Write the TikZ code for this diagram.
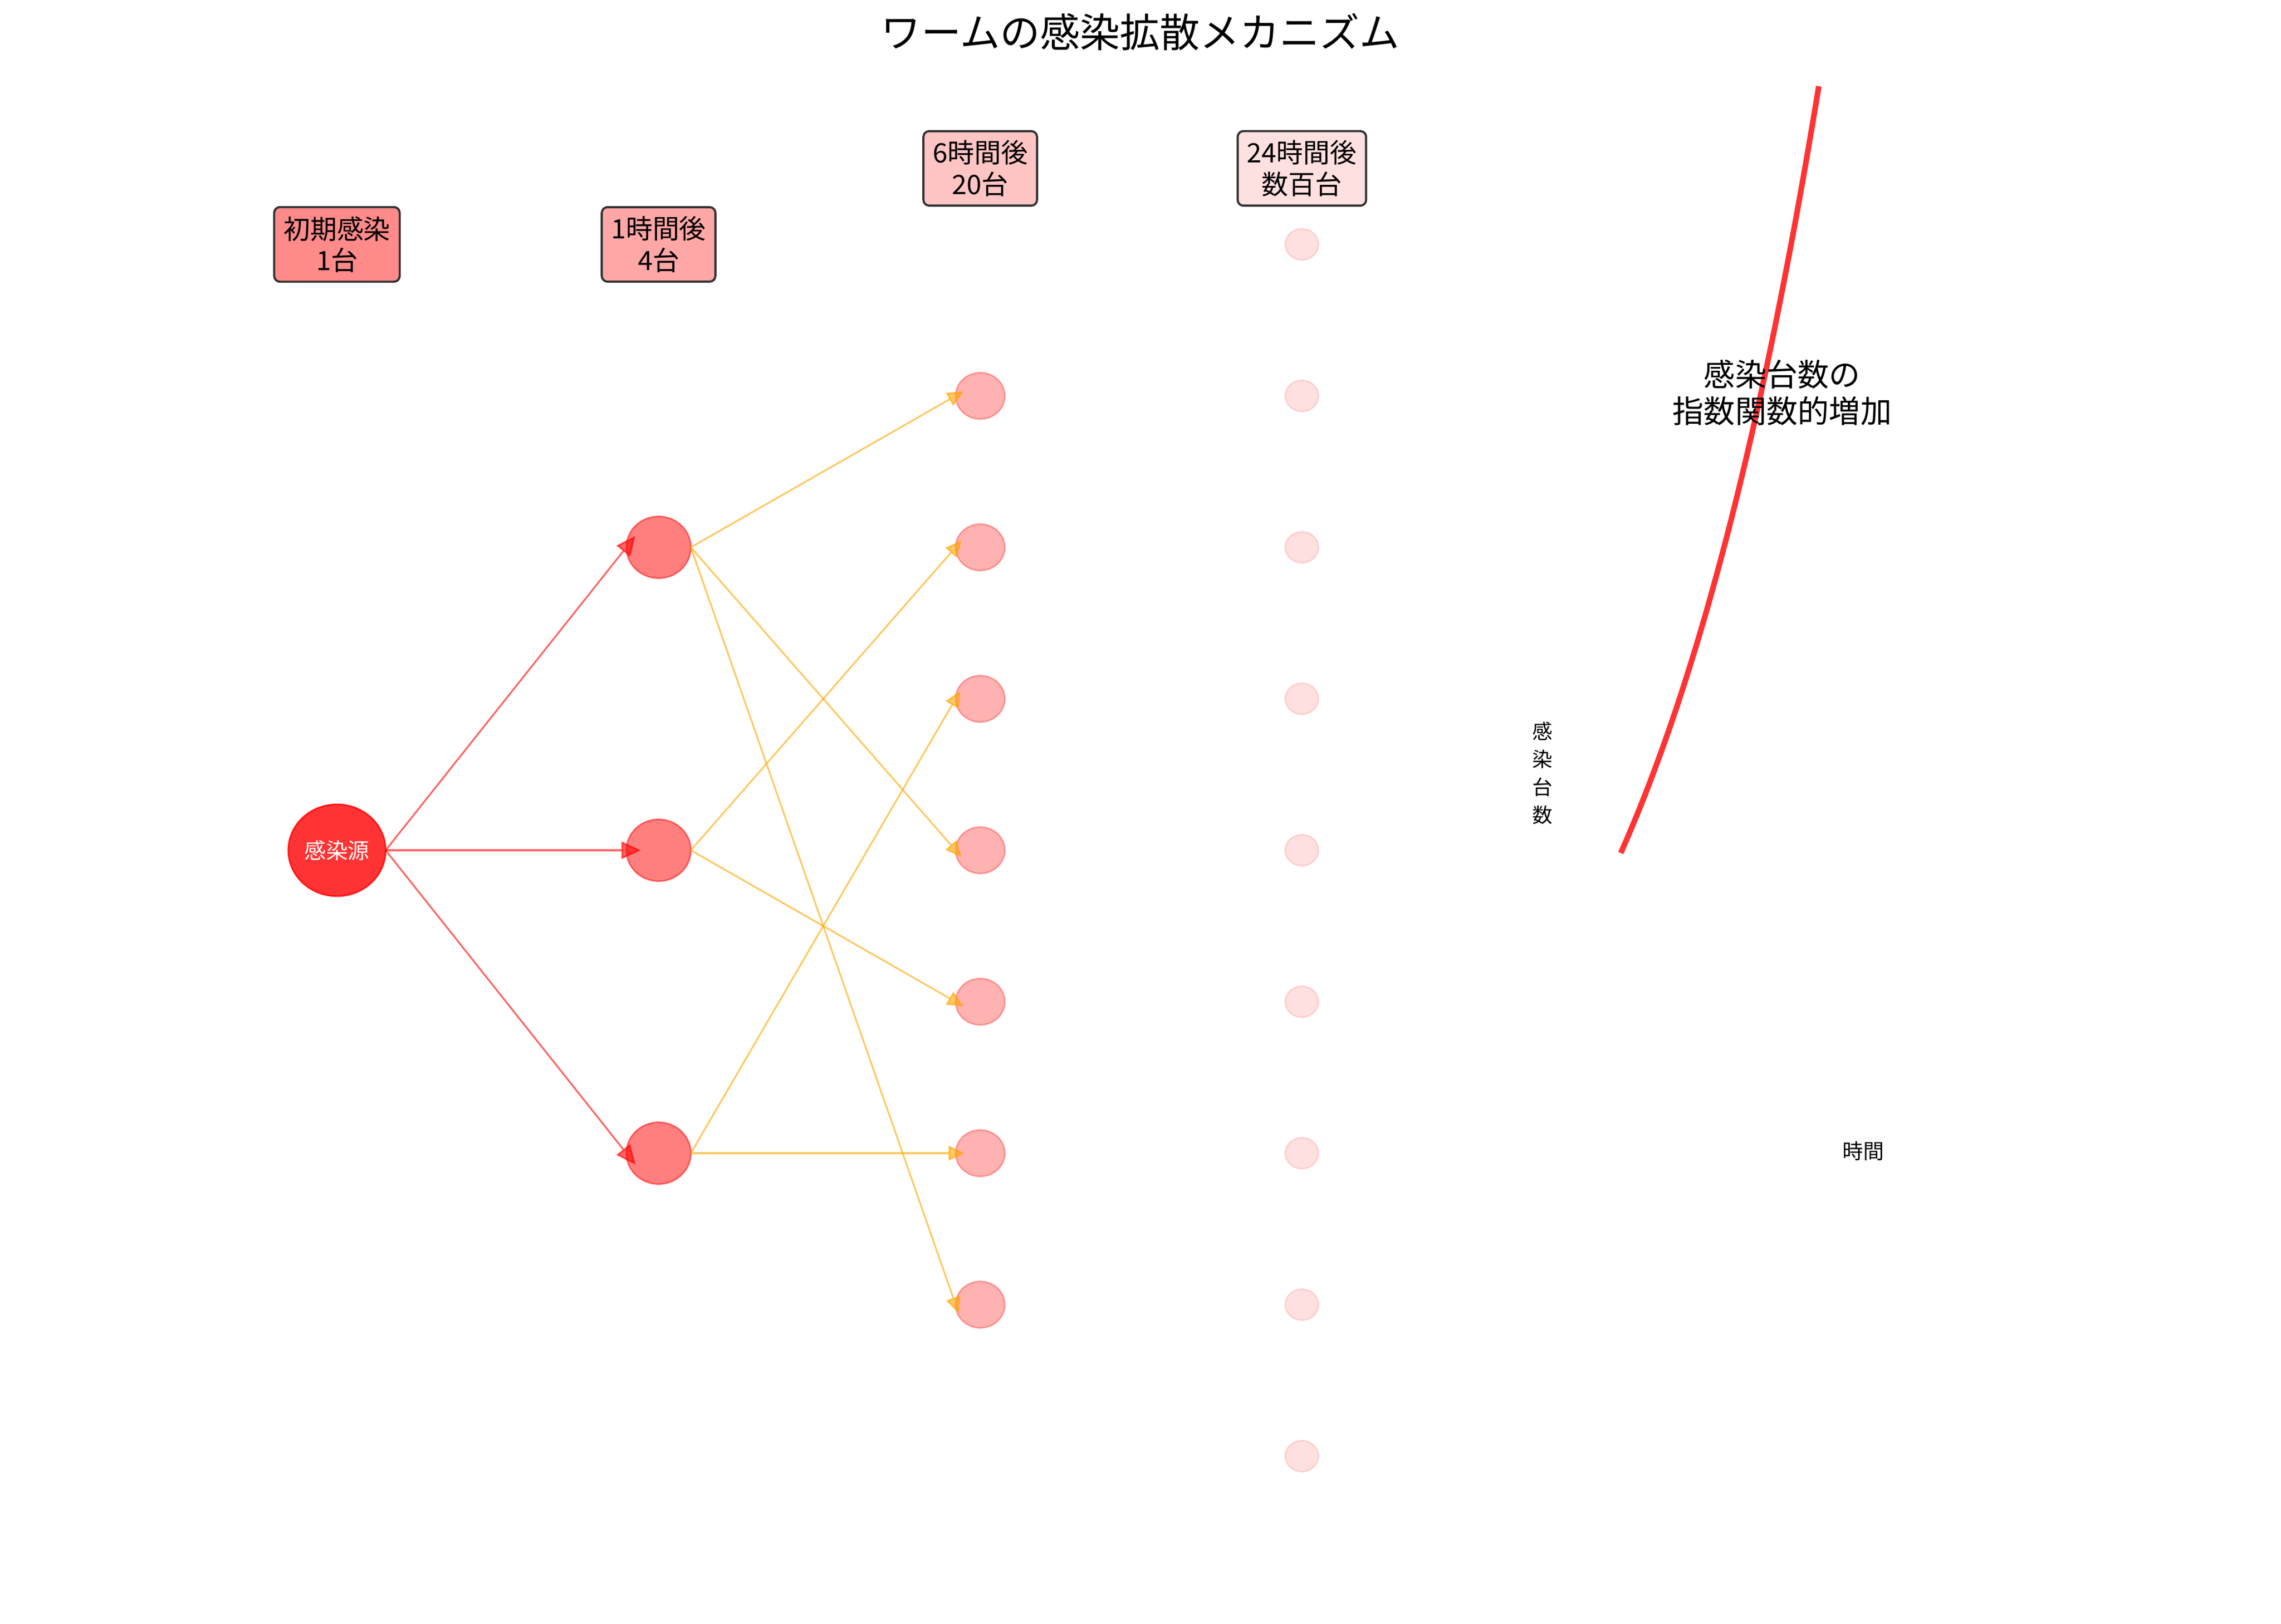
\documentclass[tikz,border=0pt]{standalone}
\usepackage{fontspec}
\setmainfont{Noto Sans CJK JP}
\usepackage{tikz}
\usetikzlibrary{arrows.meta, calc, shapes.geometric, positioning}
\definecolor{mplorange}{HTML}{FFA500}
\tikzstyle{infected} = [ellipse, draw=red, fill=red, line width=0.8pt, inner sep=0pt, outer sep=0pt]
\tikzstyle{src} = [infected, opacity=0.8, text opacity=1, text=white, minimum width=1.78cm, minimum height=1.68cm, font=\fontsize{11.3}{13.5}\selectfont]
\tikzstyle{hop1} = [infected, opacity=0.5, minimum width=1.18cm, minimum height=1.13cm]
\tikzstyle{hop2} = [infected, opacity=0.3, minimum width=0.90cm, minimum height=0.85cm]
\tikzstyle{hop3} = [infected, opacity=0.12, minimum width=0.61cm, minimum height=0.57cm]
\tikzstyle{stage} = [rectangle, rounded corners=3pt, draw=black!80, line width=1.1pt, align=center, inner xsep=0.17cm, inner ysep=0.17cm, font=\fontsize{13.9}{16.3}\selectfont]
\tikzstyle{spread} = [-{Triangle[length=0.36cm, width=0.32cm]}, draw=red, opacity=0.6, line width=0.9pt, shorten >=-0.27cm]
\tikzstyle{relay} = [-{Triangle[length=0.30cm, width=0.27cm]}, draw=mplorange, opacity=0.6, line width=0.9pt, shorten >=-0.17cm]

\begin{document}
\begin{tikzpicture}[scale = 1]
\useasboundingbox (0, 0) rectangle (41.70, 29.70);

  \node[font=\fontsize{20.8}{25}\selectfont] (title) at (20.85, 29.11) {ワームの感染拡散メカニズム};

  \coordinate (origin) at (6.16, 14.15);
  \node[src] (s) at (origin) {感染源};

  % 1 hour
  \node[hop1] (a1) at ($(origin) + (5.88, 5.54)$) {};
  \node[hop1] (a2) at ($(origin) + (5.88, 0)$) {};
  \node[hop1] (a3) at ($(origin) + (5.88, -5.54)$) {};

  % 6 hours
  \node[hop2] (b1) at ($(origin) + (11.76, 8.31)$) {};
  \node[hop2] (b2) at ($(origin) + (11.76, 5.54)$) {};
  \node[hop2] (b3) at ($(origin) + (11.76, 2.77)$) {};
  \node[hop2] (b4) at ($(origin) + (11.76, 0)$) {};
  \node[hop2] (b5) at ($(origin) + (11.76, -2.77)$) {};
  \node[hop2] (b6) at ($(origin) + (11.76, -5.54)$) {};
  \node[hop2] (b7) at ($(origin) + (11.76, -8.31)$) {};

  % 24 hours
  \node[hop3] (c1) at ($(origin) + (17.64, 11.08)$) {};
  \node[hop3] (c2) at ($(origin) + (17.64, 8.31)$) {};
  \node[hop3] (c3) at ($(origin) + (17.64, 5.54)$) {};
  \node[hop3] (c4) at ($(origin) + (17.64, 2.77)$) {};
  \node[hop3] (c5) at ($(origin) + (17.64, 0)$) {};
  \node[hop3] (c6) at ($(origin) + (17.64, -2.77)$) {};
  \node[hop3] (c7) at ($(origin) + (17.64, -5.54)$) {};
  \node[hop3] (c8) at ($(origin) + (17.64, -8.31)$) {};
  \node[hop3] (c9) at ($(origin) + (17.64, -11.08)$) {};

  \node[stage, fill=red!46!white] (t0) at ($(origin) + (0, 11.08)$) {初期感染\\1台};
  \node[stage, fill=red!35!white] (t1) at ($(origin) + (5.88, 11.08)$) {1時間後\\4台};
  \node[stage, fill=red!23!white] (t2) at ($(origin) + (11.76, 12.47)$) {6時間後\\20台};
  \node[stage, fill=red!12!white] (t3) at ($(origin) + (17.64, 12.47)$) {24時間後\\数百台};

  \draw[spread] (s.east) -- (a1.west);
  \draw[spread] (s.east) -- (a2.west);
  \draw[spread] (s.east) -- (a3.west);

  \draw[relay] (a1.east) -- (b1.west);
  \draw[relay] (a1.east) -- (b4.west);
  \draw[relay] (a1.east) -- (b7.west);
  \draw[relay] (a2.east) -- (b2.west);
  \draw[relay] (a2.east) -- (b5.west);
  \draw[relay] (a3.east) -- (b3.west);
  \draw[relay] (a3.east) -- (b6.west);

  % growth curve
  \draw[red!80!white, line width=2.9pt] plot[domain=0:3.62, samples=60] ({29.63 + \x}, {14.10 + 8.22*(exp(0.275*\x) - 1)});
  \node[align=center, font=\fontsize{16.3}{19}\selectfont] (growth) at (32.58, 22.52) {感染台数の\\指数関数的増加};
  \node[align=center, font=\fontsize{10.5}{14.5}\selectfont] (ylab) at (28.20, 15.56) {感\\染\\台\\数};
  \node[font=\fontsize{10.8}{13}\selectfont] (xlab) at (34.06, 8.65) {時間};

\end{tikzpicture}
\end{document}
